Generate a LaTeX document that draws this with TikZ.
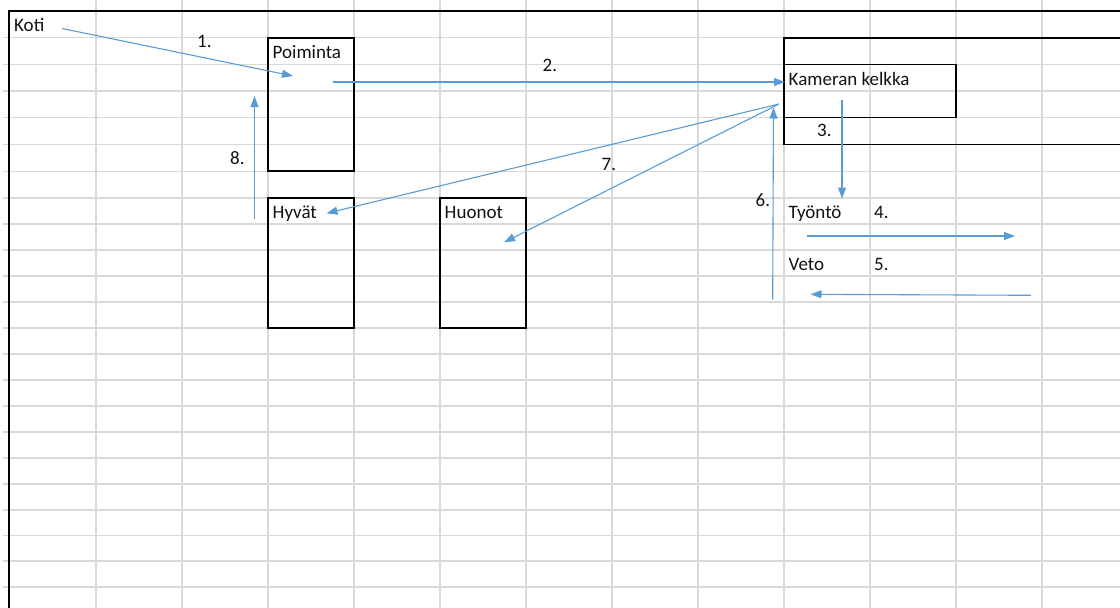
\documentclass[tikz,border=0pt]{standalone}
\usepackage{fontspec}
\setmainfont{Carlito}
\usetikzlibrary{arrows.meta}
\definecolor{gridgray}{HTML}{D9D9D9}
\definecolor{flowblue}{HTML}{5B9BD5}
\definecolor{ink}{HTML}{111111}

\begin{document}
\begin{tikzpicture}[x=1pt,y=-1pt,
  cell/.style={draw=black,line width=1.6pt,inner sep=0pt,outer sep=0pt,anchor=north west},
  lbl/.style={font=\fontsize{19}{21}\selectfont,inner sep=0pt,anchor=base west,text=ink},
  flow/.style={draw=flowblue,line width=1.1pt,-{Triangle[length=11pt,width=8pt]}}]
\useasboundingbox (0,0) rectangle (1120,608);
\clip (0,0) rectangle (1120,608);

% worksheet grid
\foreach \gx in {96,182,268,354,440,526,612,698,784,870,956,1042}
  \draw[gridgray,line width=1.1pt] (\gx,0) -- (\gx,608);
\foreach \gy in {37.7,64.5,91,117.5,144.3,171.2,198,224,250,276,302,328,354,380,406,432,458,484,510,535.5,561,587}
  \draw[gridgray,line width=1.1pt] (3,\gy) -- (1120,\gy);

% sheet border
\draw[black,line width=1.8pt] (9,620) -- (9,11) -- (1130,11);

% boxes
\node[cell,minimum width=86pt,minimum height=133.5pt] (poiminta) at (268,37.7) {};
\node[cell,minimum width=86pt,minimum height=130pt] (hyvat) at (268,198) {};
\node[cell,minimum width=86pt,minimum height=130pt] (huonot) at (440,198) {};
\node[cell,minimum width=360pt,minimum height=106.6pt] (rata) at (784,37.7) {};
\node[cell,minimum width=172pt,minimum height=53pt] (kelkka) at (784,64.5) {};

% texts
\node[lbl] (tkoti) at (14,31) {Koti};
\node[lbl] (tpoim) at (272.5,58.3) {Poiminta};
\node[lbl] (tkelkka) at (788.5,85) {Kameran kelkka};
\node[lbl] (thyvat) at (272.5,218.3) {Hyvät};
\node[lbl] (thuonot) at (444.5,218.3) {Huonot};
\node[lbl] (ttyonto) at (788.5,218.3) {Työntö};
\node[lbl] (tveto) at (788.5,270) {Veto};

% step numbers
\node[lbl] (n1) at (197,47) {1.};
\node[lbl] (n2) at (542.5,71.7) {2.};
\node[lbl] (n3) at (817,136) {3.};
\node[lbl] (n4) at (874,218.3) {4.};
\node[lbl] (n5) at (874,270) {5.};
\node[lbl] (n6) at (755.5,206.5) {6.};
\node[lbl] (n7) at (601.5,170.7) {7.};
\node[lbl] (n8) at (230,164) {8.};

% arrow end points
\coordinate (kotiout) at (62,28.5);
\coordinate (poimin) at (293,76);
\coordinate (poimout) at (333,82);
\coordinate (kelkkain) at (785,82);
\coordinate (kelkkaout) at (779,104);
\coordinate (kelkkadown) at (842,100);
\coordinate (tyontoin) at (842,198.5);
\coordinate (pushstart) at (807,236);
\coordinate (pushend) at (1015,236);
\coordinate (pullstart) at (1031,295.3);
\coordinate (pullend) at (810.5,294.3);
\coordinate (backstart) at (772.7,299.5);
\coordinate (backend) at (773.5,107.5);
\coordinate (hyvatin) at (326.5,213.3);
\coordinate (huonotin) at (504,242.3);
\coordinate (returnstart) at (254.5,218.5);
\coordinate (returnend) at (254.5,96);

% flow arrows
\draw[flow] (kotiout) -- (poimin);
\draw[flow] (poimout) -- (kelkkain);
\draw[flow] (kelkkadown) -- (tyontoin);
\draw[flow] (pushstart) -- (pushend);
\draw[flow] (pullstart) -- (pullend);
\draw[flow] (backstart) -- (backend);
\draw[flow] (kelkkaout) -- (hyvatin);
\draw[flow] (kelkkaout) -- (huonotin);
\draw[flow] (returnstart) -- (returnend);
\end{tikzpicture}
\end{document}
